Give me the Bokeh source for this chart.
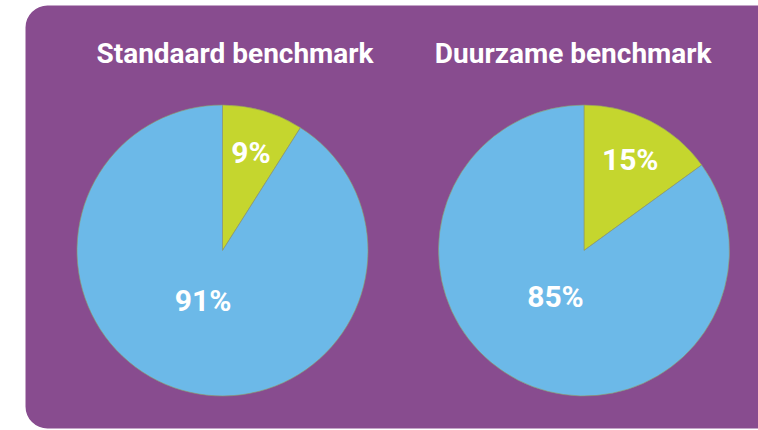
import math
from bokeh.plotting import figure
from bokeh.models import ColumnDataSource, BoxAnnotation
from bokeh.core.properties import value
from bokeh.embed import file_html
from bokeh.resources import INLINE

titles = ["Standaard benchmark", "Duurzame benchmark"]
categories = ["Duurzaam", "Overig"]
standaard = [9, 91]
duurzaam = [15, 85]
series = [standaard, duurzaam]
colors = ["#C5D62E", "#6CB9E8"]

W, H = 758, 430
p = figure(width=W, height=H, x_range=(0, W), y_range=(0, H),
           output_backend="svg", toolbar_location=None, min_border=0)
p.axis.visible = False
p.grid.visible = False
p.outline_line_color = None
p.background_fill_color = "white"
p.border_fill_color = "white"

bg = BoxAnnotation(left=25, right=W + 40, bottom=2, top=H - 5,
                   fill_color="#884C8F", fill_alpha=1.0, line_color=None,
                   border_radius=22, level="underlay")
p.add_layout(bg)

centers = [(222, H - 250), (583.5, H - 250)]
title_x = [234.5, 572.7]
R = 145.5
LFS = 30
TFS = 28

for (cx, cy), tx, vals, title in zip(centers, title_x, series, titles):
    total = float(sum(vals))
    starts, ends, lx, ly, labels = [], [], [], [], []
    acc = 0.0
    for v in vals:
        a0 = math.pi / 2 - 2 * math.pi * acc / total
        a1 = math.pi / 2 - 2 * math.pi * (acc + v) / total
        starts.append(a1)
        ends.append(a0)
        small = v / total < 0.5
        mid = (a0 + a1) / 2 - (0 if small else math.radians(5))
        rf = 0.70 if small else 0.37
        lx.append(cx + R * rf * math.cos(mid))
        ly.append(cy + R * rf * math.sin(mid))
        labels.append(f"{v}%")
        acc += v
    src = ColumnDataSource(dict(x=[cx] * len(vals), y=[cy] * len(vals),
                                start=starts, end=ends, color=colors,
                                lx=lx, ly=ly, label=labels, cat=categories))
    p.wedge(x="x", y="y", radius=R, start_angle="start", end_angle="end",
            fill_color="color", line_color="#8f9a6a", line_width=0.8,
            line_alpha=0.8, source=src)
    p.text(x="lx", y="ly", text="label", source=src, text_color="white",
           text_font=value("Roboto"), text_font_style="bold",
           text_font_size=f"{LFS}px", text_align="center",
           text_baseline="middle")
    tsrc = ColumnDataSource(dict(x=[tx], y=[H - 52.7], t=[title]))
    p.text(x="x", y="y", text="t", source=tsrc, text_color="white",
           text_font=value("Roboto"), text_font_style="bold",
           text_font_size=f"{TFS}px", text_align="center",
           text_baseline="middle")

open("out.html", "w").write(file_html(p, INLINE))
